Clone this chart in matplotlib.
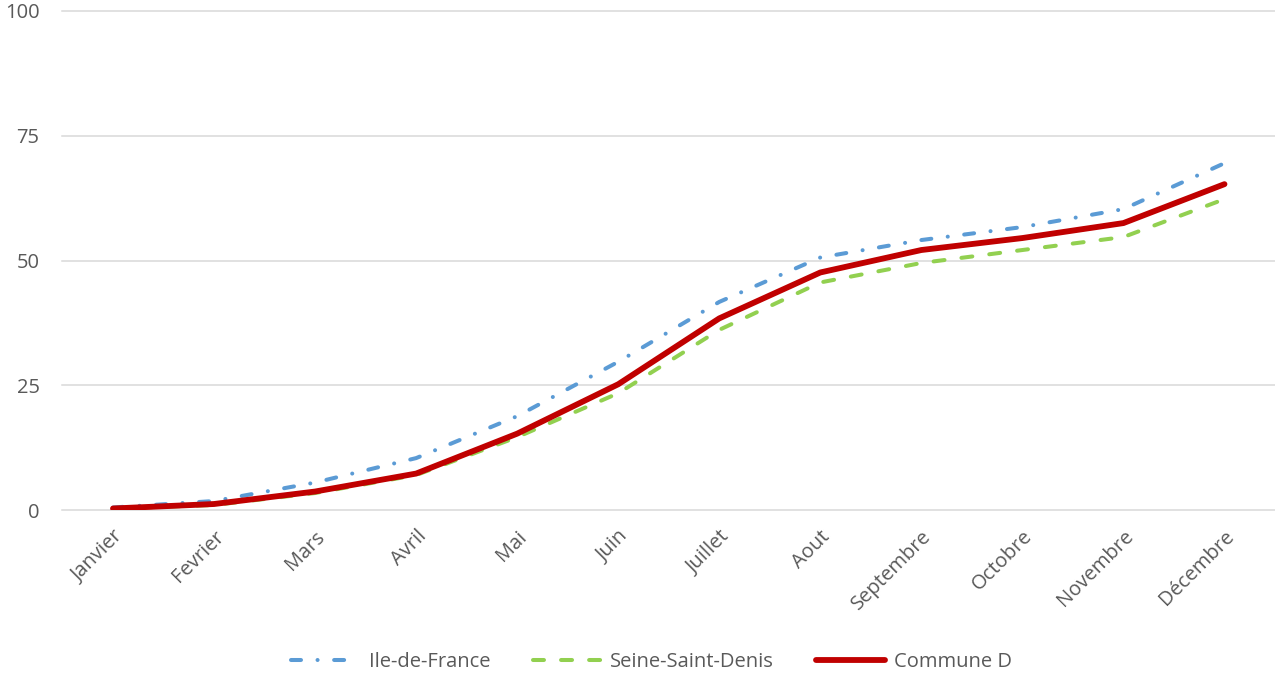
import matplotlib
matplotlib.use("Agg")
import matplotlib.pyplot as plt

plt.rcParams['font.family'] = ['Open Sans', 'DejaVu Sans']
plt.rcParams['lines.scale_dashes'] = False

months = ["Janvier", "Fevrier", "Mars", "Avril", "Mai", "Juin", "Juillet",
          "Aout", "Septembre", "Octobre", "Novembre", "Décembre"]
idf = [0.5, 1.8, 5.5, 10.4, 18.8, 29.7, 41.7, 50.6, 54.1, 56.7, 60.3, 69.5]
ssd = [0.3, 1.0, 3.4, 7.0, 14.6, 23.4, 36.1, 45.6, 49.5, 52.1, 54.7, 62.3]
commune = [0.3, 1.2, 3.7, 7.3, 15.3, 25.2, 38.4, 47.6, 52.1, 54.5, 57.5, 65.3]
yticks = [0, 25, 50, 75, 100]

fig = plt.figure(figsize=(12.75, 6.75), dpi=100)
ax = fig.add_axes([0.049, 1 - 510 / 675, 0.951, 499 / 675])

x = list(range(len(months)))
grid_color = "#D9D9D9"
for t in yticks:
    ax.axhline(t, color=grid_color, lw=1.1, zorder=0, clip_on=False)

l1, = ax.plot(x, idf, color="#5B9BD5", lw=2.9, linestyle=(0, (7.2, 11.9, 0.05, 11.9)),
              dash_capstyle="round", label="Ile-de-France", zorder=2)
l2, = ax.plot(x, ssd, color="#92D050", lw=2.9, linestyle=(0, (7.9, 12.3)),
              dash_capstyle="round", label="Seine-Saint-Denis", zorder=2)
l3, = ax.plot(x, commune, color="#C00000", lw=4.2, solid_capstyle="round",
              solid_joinstyle="round", label="Commune D", zorder=3)

ax.set_xlim(-0.5, 11.5)
ax.set_ylim(0, 100)
ax.set_yticks(yticks)
ax.set_xticks(x)
ax.set_xticklabels(months, rotation=45, ha="right", va="top",
                   rotation_mode="anchor")
ax.tick_params(axis="both", length=0, colors="#595959", labelsize=14.5)
ax.tick_params(axis="x", pad=12)
ax.tick_params(axis="y", pad=16.5)
for s in ax.spines.values():
    s.set_visible(False)
ax.set_facecolor("none")

leg = fig.legend(handles=[l1, l2, l3], loc="center", bbox_to_anchor=(0.511, 1 - 662 / 675),
                 ncol=3, frameon=False, fontsize=14.5, handlelength=3.4,
                 columnspacing=2.1, handletextpad=0.45)
for t in leg.get_texts():
    t.set_color("#595959")

fig.savefig("out.png", dpi=100)
